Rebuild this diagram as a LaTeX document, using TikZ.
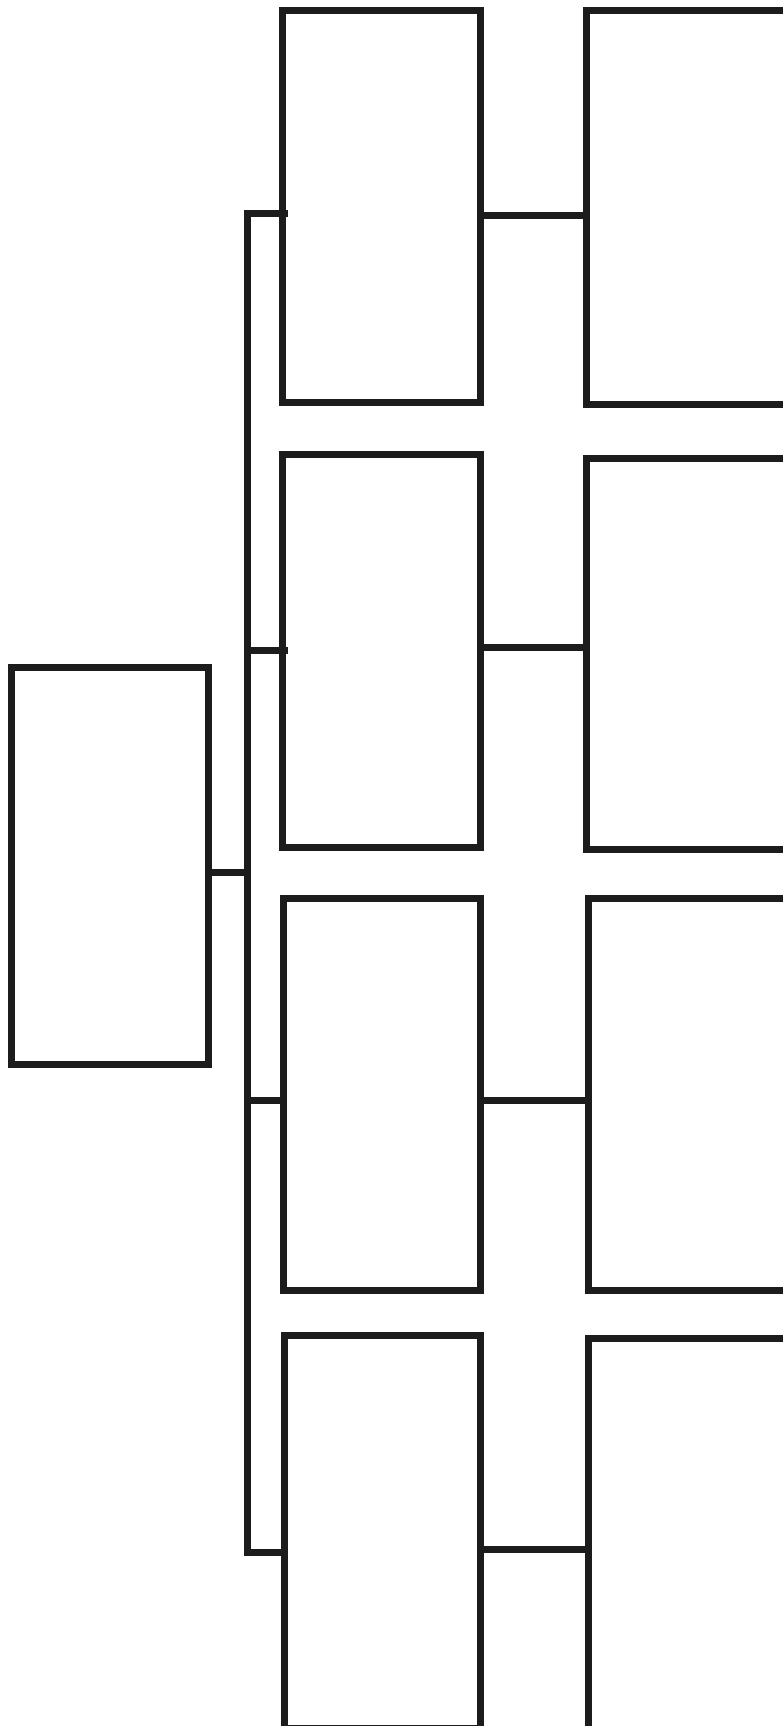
\documentclass[tikz,border=0pt]{standalone}
\begin{document}
\begin{tikzpicture}[x=1pt,y=-1pt,
  box/.style={draw=ink,line width=7pt,fill=none,inner sep=0pt,outer sep=0pt,minimum width=#1},
  wire/.style={draw=ink,line width=7pt,line cap=butt,line join=miter}]
\definecolor{ink}{HTML}{1C1C1C}
\useasboundingbox[fill=white] (0,0) rectangle (782,1726);
% left box
\node[box=197pt,minimum height=397pt] (L) at (109.5,865.5) {};
% column 2
\node[box=198pt,minimum height=391pt] (b1) at (381,206.5) {};
\node[box=198pt,minimum height=393pt] (b2) at (381,650.5) {};
\node[box=197pt,minimum height=392pt] (b3) at (381.5,1094) {};
\node[box=196pt,minimum height=393pt] (b4) at (382,1531.5) {};
% column 3
\node[box=200pt,minimum height=393pt] (c1) at (686,207.5) {};
\node[box=200pt,minimum height=391pt] (c2) at (686,653.5) {};
\node[box=198pt,minimum height=392pt] (c3) at (687,1094) {};
\node[box=198pt,minimum height=392pt] (c4) at (687,1534) {};
% helper coordinates
\coordinate (t1) at (247,213);
\coordinate (t2) at (247,650);
\coordinate (t3) at (247,1100);
\coordinate (t4) at (247,1552);
\coordinate (tl) at (247,872);
\coordinate (e1) at (288,213);
\coordinate (e2) at (288,650);
\coordinate (h1) at (0,215);
\coordinate (h2) at (0,647);
\coordinate (h3) at (0,1100);
\coordinate (h4) at (0,1549);
% trunk
\draw[wire] (e1) -- (t1) -- (t4) -- (b4.west |- t4);
\draw[wire] (t2) -- (e2);
\draw[wire] (t3) -- (b3.west |- t3);
\draw[wire] (L.east |- tl) -- (tl);
% column 2 to column 3
\draw[wire] (b1.east |- h1) -- (c1.west |- h1);
\draw[wire] (b2.east |- h2) -- (c2.west |- h2);
\draw[wire] (b3.east |- h3) -- (c3.west |- h3);
\draw[wire] (b4.east |- h4) -- (c4.west |- h4);
\end{tikzpicture}
\end{document}
